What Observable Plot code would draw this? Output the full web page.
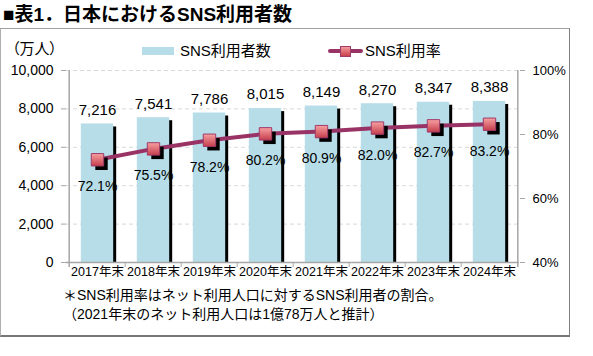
<!DOCTYPE html>
<html><head><meta charset="utf-8">
<script src="https://cdn.jsdelivr.net/npm/d3@7"></script>
<script src="https://cdn.jsdelivr.net/npm/@observablehq/plot@0.6"></script>
<style>
body{margin:0;background:#fff;}
#wrap{position:relative;width:593px;height:356px;font-family:"Liberation Sans","Noto Sans CJK JP",sans-serif;color:#000;font-feature-settings:"palt";overflow:hidden;}
.abs{position:absolute;white-space:nowrap;line-height:1;}
.np{font-feature-settings:normal;}
#box{position:absolute;left:0;top:28px;width:568px;height:306px;border-left:1px solid #b0b0b0;border-top:1px solid #a0a0a0;border-right:1px solid #808080;border-bottom:2px solid #777;}
#chart{position:absolute;left:0;top:0;}
</style></head>
<body>
<div id="wrap">
  <div id="box"></div>
  <div id="chart"></div>
  <div class="abs np" style="left:3px;top:5px;font-size:19px;font-weight:bold;">■表1．日本におけるSNS利用者数</div>
  <div class="abs" style="left:12px;top:41px;font-size:15px;">（万人）</div>
  <div class="abs" style="left:142px;top:47px;width:32px;height:8px;background:#b7dde8;"></div>
  <div class="abs" style="left:180px;top:43px;font-size:15px;">SNS利用者数</div>
  <div class="abs" style="left:328px;top:49px;width:35px;height:4px;background:#993366;border-radius:2px;"></div>
  <div class="abs" style="left:340px;top:46px;width:9px;height:9px;background:linear-gradient(#f49a9a,#c8404e);border:1px solid #a03a6a;"></div>
  <div class="abs" style="left:365px;top:43px;font-size:15px;">SNS利用率</div>
  <div class="abs np" style="left:63px;top:288px;font-size:14px;">＊SNS利用率はネット利用人口に対するSNS利用者の割合。</div>
  <div class="abs np" style="left:63px;top:307px;font-size:14px;">（2021年末のネット利用人口は1億78万人と推計）</div>
</div>
<script>
const years = ["2017年末","2018年末","2019年末","2020年末","2021年末","2022年末","2023年末","2024年末"];
const users = [7216, 7541, 7786, 8015, 8149, 8270, 8347, 8388];
const rates = [72.1, 75.5, 78.2, 80.2, 80.9, 82.0, 82.7, 83.2];
const leftTicks = [0, 2000, 4000, 6000, 8000, 10000];
const rightTicks = [40, 60, 80, 100];

const W = 593, H = 356, mL = 66, mR = 74, mT = 70, mB = 94;
const step = (W - mL - mR) / years.length;
const rateMin = 40, rateMax = 100, yMax = 10000;
const toY = r => (r - rateMin) / (rateMax - rateMin) * yMax;
const data = years.map((year, i) => ({year, users: users[i], rate: rates[i], ry: toY(rates[i])}));
const inset = (step - 33) / 2;
const below = -260; // a bit under zero, for tick stubs
const axisGray = "#a6a6a6";

const chart = Plot.plot({
  width: W, height: H,
  marginLeft: mL, marginRight: mR, marginTop: mT, marginBottom: mB,
  style: {fontFamily: '"Liberation Sans","Noto Sans CJK JP",sans-serif', fontSize: "14px", color: "#000", background: "transparent", overflow: "visible"},
  x: {domain: years, padding: 0, axis: null},
  y: {domain: [0, yMax], axis: null},
  marks: [
    Plot.ruleY(leftTicks.filter(d => d > 0), {stroke: "#d9d9d9", strokeDasharray: "4,3"}),
    Plot.barY(data, {x: "year", y: "users", fill: "#000", dx: 3, dy: 3, insetBottom: 3, insetLeft: inset, insetRight: inset}),
    Plot.barY(data, {x: "year", y: "users", fill: "#b7dde8", insetLeft: inset, insetRight: inset}),
    Plot.ruleY([0], {stroke: axisGray, strokeWidth: 1.5}),
    Plot.ruleX([years[0]], {dx: -step / 2, y1: below, y2: yMax, stroke: axisGray, strokeWidth: 1.5}),
    Plot.ruleX([years[years.length - 1]], {dx: step / 2, y1: below, y2: yMax, stroke: axisGray, strokeWidth: 1.5}),
    Plot.ruleX(years.slice(1), {dx: -step / 2, y1: below, y2: 0, stroke: axisGray}),
    Plot.axisY(leftTicks, {anchor: "left", tickSize: 5, tickPadding: 8, tickFormat: d3.format(","), stroke: axisGray, fontSize: 14, label: null}),
    Plot.axisY(rightTicks.map(toY), {anchor: "right", tickSize: 5, tickPadding: 8, tickFormat: v => Math.round(v / yMax * (rateMax - rateMin) + rateMin) + "%", stroke: axisGray, fontSize: 13, label: null}),
    Plot.axisX({tickSize: 0, tickPadding: 5, fontSize: 12.5, label: null}),
    Plot.line(data, {x: "year", y: "ry", stroke: "#993366", strokeWidth: 4}),
    Plot.dot(data, {x: "year", y: "ry", symbol: "square", r: 7, fill: "#000", dx: 4, dy: 4}),
    Plot.dot(data, {x: "year", y: "ry", symbol: "square", r: 7, fill: "url(#mgrad)", stroke: "#a03a6a", strokeWidth: 1}),
    Plot.text(data, {x: "year", y: "users", text: d => d3.format(",")(d.users), dy: -14, fontSize: 15, fill: "#000"}),
    Plot.text(data, {x: "year", y: "ry", text: d => d.rate.toFixed(1) + "%", dy: 27, fontSize: 14, fill: "#000"})
  ]
});
const defs = d3.select(chart).insert("defs", ":first-child");
const g = defs.append("linearGradient").attr("id", "mgrad").attr("x1", 0).attr("y1", 0).attr("x2", 0).attr("y2", 1);
g.append("stop").attr("offset", "0%").attr("stop-color", "#f6a0a0");
g.append("stop").attr("offset", "100%").attr("stop-color", "#c63e4c");
document.getElementById("chart").appendChild(chart);
</script>
</body></html>
